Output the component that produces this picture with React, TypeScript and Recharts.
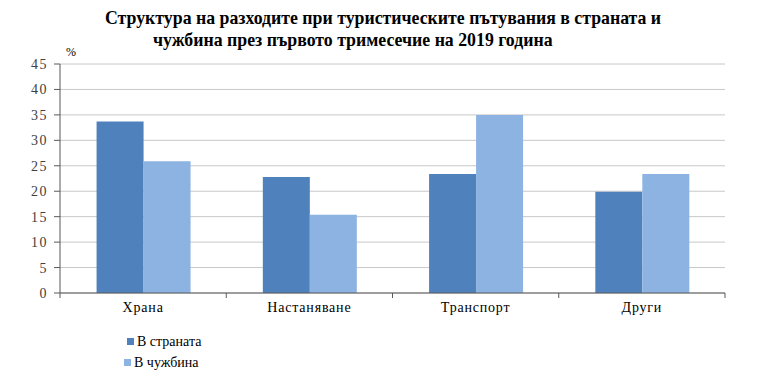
import React from "react"
import { Bar, BarChart, CartesianGrid, XAxis, YAxis } from "recharts"

const categories = ["Храна", "Настаняване", "Транспорт", "Други"]
const domestic = [33.7, 22.8, 23.4, 19.9]
const abroad = [25.9, 15.4, 35.0, 23.4]
const yTicks = [0, 5, 10, 15, 20, 25, 30, 35, 40, 45]
const seriesNames = ["В страната", "В чужбина"]

const data = categories.map((name, i) => ({
  name,
  domestic: domestic[i],
  abroad: abroad[i],
}))

const darkBlue = "#4F81BD"
const lightBlue = "#8DB3E2"
const serif = "'Liberation Serif', 'Times New Roman', serif"

const plotLeft = 60
const plotRight = 725

function CategoryTick(props: any) {
  const { x, y, payload } = props
  const half = (plotRight - plotLeft) / categories.length / 2
  return (
    <g>
      <line x1={x + half} x2={x + half} y1={y - 8} y2={y - 3} stroke="#595959" />
      {payload.index === 0 && (
        <line x1={x - half} x2={x - half} y1={y - 8} y2={y - 3} stroke="#595959" />
      )}
      <text x={x} y={y + 11} textAnchor="middle" fontFamily={serif} fontSize={14} letterSpacing={0.8} fill="#000">
        {payload.value}
      </text>
    </g>
  )
}

function ChartLegend() {
  const colors = [darkBlue, lightBlue]
  return (
    <div style={{ position: "absolute", left: 127, top: 331, fontFamily: serif, fontSize: 14, color: "#000" }}>
      {seriesNames.map((n, i) => (
        <div key={n} style={{ display: "flex", alignItems: "center", height: 21, marginLeft: i === 1 ? -3 : 0 }}>
          <span style={{ width: 7, height: 7, background: colors[i], marginRight: 3, display: "inline-block" }} />
          {n}
        </div>
      ))}
    </div>
  )
}

export default function App() {
  return (
    <div style={{ position: "absolute", left: 0, top: 0, width: 768, height: 376, background: "#fff" }}>
      <div
        style={{
          position: "absolute",
          left: 0,
          top: 7,
          width: 768,
          fontFamily: serif,
          fontWeight: "bold",
          fontSize: 17.8,
          lineHeight: "22px",
          color: "#000",
          whiteSpace: "nowrap",
        }}
      >
        <div style={{ paddingLeft: 105 }}>Структура на разходите при туристическите пътувания в страната и</div>
        <div style={{ paddingLeft: 153 }}>чужбина през първото тримесечие на 2019 година</div>
      </div>
      <div style={{ position: "absolute", left: 66, top: 45, fontFamily: serif, fontSize: 12, color: "#000" }}>%</div>
      <BarChart
        width={768}
        height={376}
        data={data}
        margin={{ top: 64, right: 43, bottom: 53, left: 0 }}
        barCategoryGap="22%"
        barGap={0}
      >
        <CartesianGrid vertical={false} stroke="#c8c8c8" />
        <XAxis
          dataKey="name"
          tick={<CategoryTick />}
          tickLine={false}
          axisLine={{ stroke: "#595959" }}
          interval={0}
        />
        <YAxis
          width={60}
          domain={[0, 45]}
          ticks={yTicks}
          interval={0}
          tickSize={6}
          tickMargin={6}
          axisLine={{ stroke: "#595959" }}
          tickLine={{ stroke: "#595959" }}
          tick={{ fontFamily: serif, fontSize: 14, fill: "#404040", letterSpacing: 1.5 }}
        />
        <YAxis
          yAxisId="r"
          orientation="right"
          width={0}
          domain={[0, 45]}
          tick={false}
          tickLine={false}
          axisLine={{ stroke: "#c8c8c8" }}
        />
        <Bar dataKey="domestic" name={seriesNames[0]} fill={darkBlue} isAnimationActive={false} />
        <Bar dataKey="abroad" name={seriesNames[1]} fill={lightBlue} isAnimationActive={false} />
      </BarChart>
      <ChartLegend />
    </div>
  )
}
